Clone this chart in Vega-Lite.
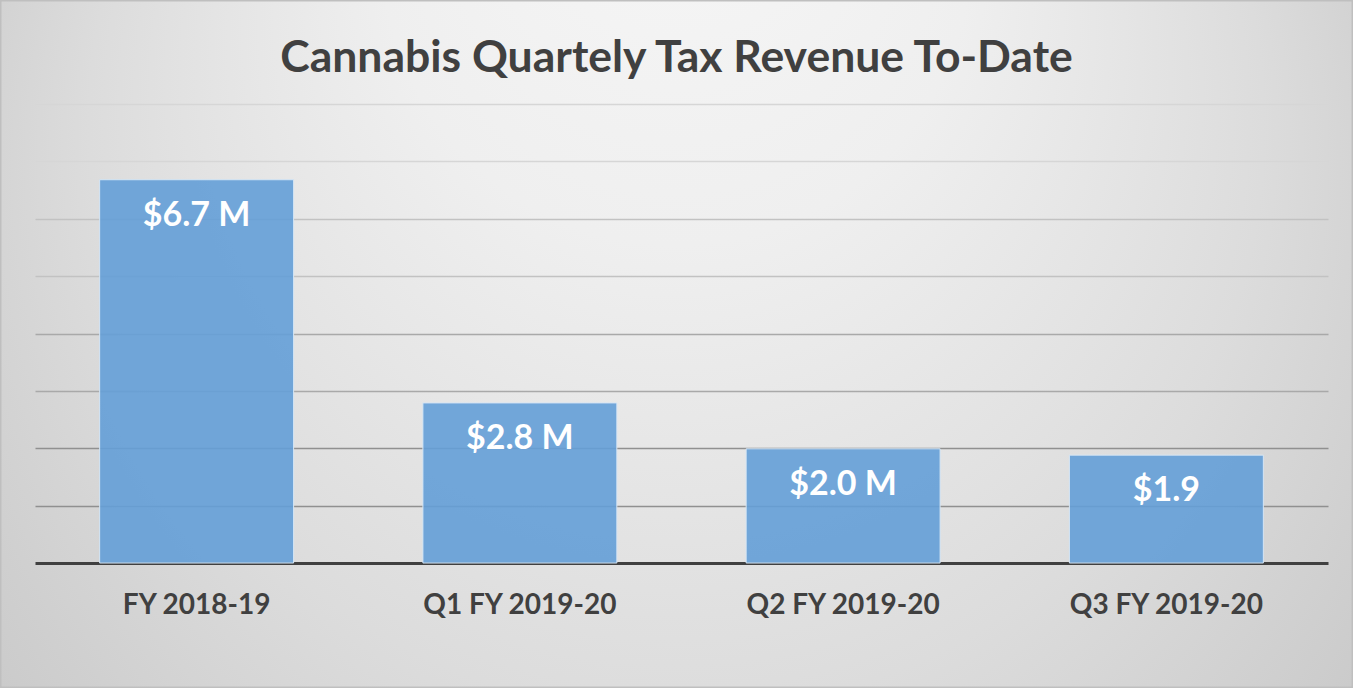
{
  "$schema": "https://vega.github.io/schema/vega-lite/v6.json",
  "width": 1353,
  "height": 688,
  "autosize": {"type": "none"},
  "padding": 0,
  "background": "#ffffff",
  "title": {
    "text": "Cannabis Quartely Tax Revenue To-Date",
    "font": "Lato",
    "fontSize": 44.5,
    "fontWeight": "bold",
    "color": "#404040",
    "anchor": "middle",
    "baseline": "alphabetic",
    "offset": -116
  },
  "data": {
    "values": [
      {"period": "FY 2018-19", "revenue": 6.68, "label": "$6.7 M"},
      {"period": "Q1 FY 2019-20", "revenue": 2.79, "label": "$2.8 M"},
      {"period": "Q2 FY 2019-20", "revenue": 1.99, "label": "$2.0 M"},
      {"period": "Q3 FY 2019-20", "revenue": 1.88, "label": "$1.9"}
    ]
  },
  "encoding": {
    "x": {
      "field": "period",
      "type": "nominal",
      "sort": null,
      "scale": {"range": [35, 1328], "paddingInner": 0.4, "paddingOuter": 0.2},
      "axis": {
        "title": null,
        "orient": "bottom",
        "offset": -125,
        "labelAngle": 0,
        "ticks": false,
        "tickSize": 0,
        "grid": false,
        "domainColor": "#404040",
        "domainWidth": 3,
        "labelFont": "Lato",
        "labelFontWeight": "bold",
        "labelFontSize": 28,
        "labelColor": "#404040",
        "labelPadding": 50,
        "labelLimit": 0,
        "labelBaseline": "alphabetic"
      }
    },
    "y": {
      "field": "revenue",
      "type": "quantitative",
      "scale": {"domain": [0, 8], "range": [563, 104], "nice": false, "zero": true},
      "axis": {
        "title": null,
        "labels": false,
        "ticks": false,
        "domain": false,
        "grid": true,
        "values": [1, 2, 3, 4, 5, 6, 7, 8],
        "gridWidth": 1.5,
        "gridColor": {
          "condition": [
            {"test": "datum.value >= 7", "value": "#d6d6d6"},
            {"test": "datum.value >= 5", "value": "#c2c2c2"},
            {"test": "datum.value >= 3", "value": "#a9a9a9"}
          ],
          "value": "#909090"
        }
      }
    }
  },
  "layer": [
    {
      "mark": {
        "type": "bar",
        "fill": "#649fd7",
        "fillOpacity": 0.9,
        "stroke": "#d6e6f5",
        "strokeWidth": 1
      }
    },
    {
      "mark": {
        "type": "text",
        "dy": 36,
        "baseline": "middle",
        "align": "center",
        "font": "Lato",
        "fontSize": 34,
        "fontWeight": "bold",
        "color": "#ffffff"
      },
      "encoding": {"text": {"field": "label"}}
    }
  ],
  "config": {
    "view": {
      "stroke": "#bfbfbf",
      "strokeWidth": 3,
      "fill": {
        "gradient": "radial",
        "x1": 0.5, "y1": 0.08, "r1": 0,
        "x2": 0.5, "y2": 0.45, "r2": 0.62,
        "stops": [
          {"offset": 0, "color": "#f8f8f8"},
          {"offset": 0.35, "color": "#efefef"},
          {"offset": 0.7, "color": "#dcdcdc"},
          {"offset": 1, "color": "#c8c8c8"}
        ]
      }
    }
  }
}
